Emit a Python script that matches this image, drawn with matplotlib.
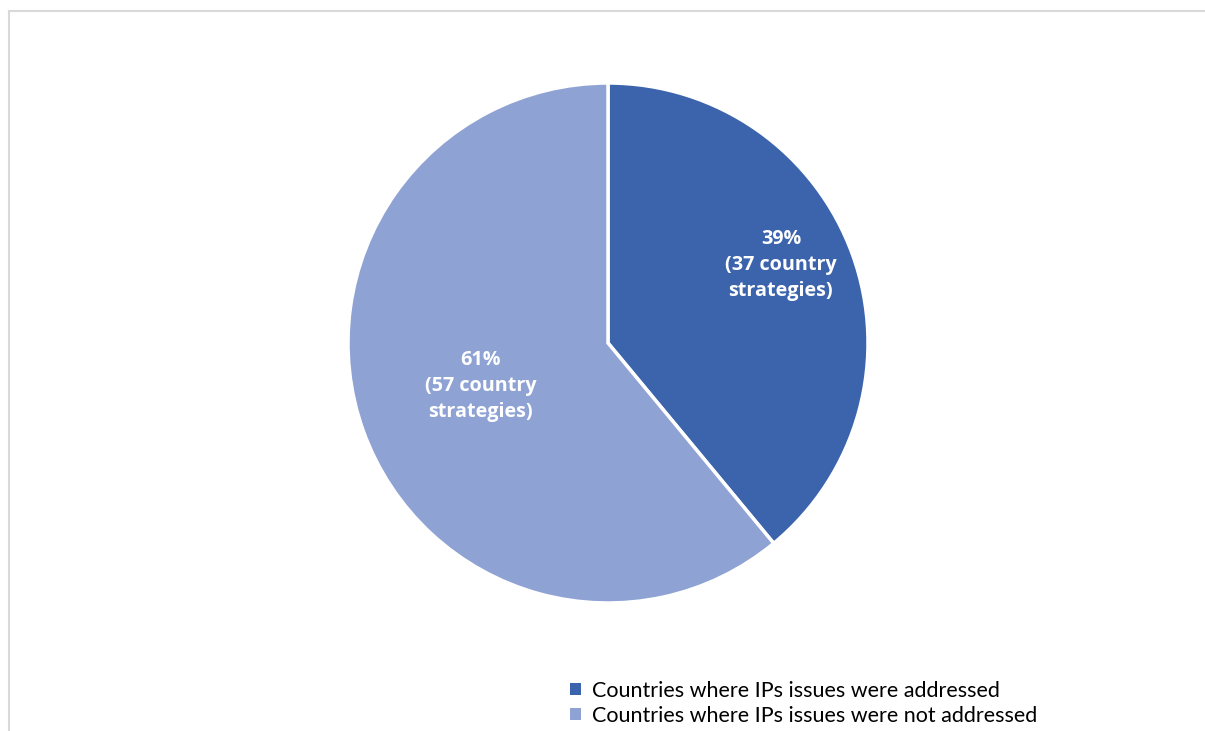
import matplotlib.pyplot as plt
import numpy as np
from matplotlib.lines import Line2D
from matplotlib.patches import Rectangle

labels = ["Countries where IPs issues were addressed",
          "Countries where IPs issues were not addressed"]
shares = [39, 61]
counts = [37, 57]
colors = ["#3B64AD", "#8FA2D4"]
label_xy = [(0.665, 0.30), (-0.49, -0.165)]

plt.rcParams['font.family'] = ['Lato', 'DejaVu Sans']

W, H = 1205, 731
fig = plt.figure(figsize=(W / 100, H / 100), dpi=100)

# pie centre (608, 343), radius 260 px
ax = fig.add_axes([348 / W, (H - 603) / H, 520 / W, 520 / H])
wedges, _ = ax.pie(shares, colors=colors, startangle=90, counterclock=False,
                   radius=1, wedgeprops=dict(edgecolor="white", linewidth=2.5))
ax.set_xlim(-1, 1)
ax.set_ylim(-1, 1)
ax.set_aspect("equal")
ax.axis("off")

for (x, y), s, c in zip(label_xy, shares, counts):
    ax.text(x, y, f"{s}%\n({c} country\nstrategies)",
            ha="center", va="center", color="white", fontsize=14.2,
            family=["Open Sans", "DejaVu Sans"], fontweight="bold",
            linespacing=1.42)

# legend
handles = [Rectangle((0, 0), 1, 1, facecolor=c, edgecolor="none") for c in colors]
fig.legend(handles, labels, loc="upper left", bbox_to_anchor=(570 / W, 1 - 681 / H),
           frameon=False, fontsize=15.5, handlelength=0.5, handleheight=0.5,
           handletextpad=0.5, labelspacing=0.22, borderpad=0, borderaxespad=0)

# chart area border (partly cropped)
fig.add_artist(Line2D([9 / W, 1], [1 - 11 / H, 1 - 11 / H], color="#D9D9D9", lw=1.5,
                      transform=fig.transFigure))
fig.add_artist(Line2D([9 / W, 9 / W], [0, 1 - 11 / H], color="#D9D9D9", lw=1.5,
                      transform=fig.transFigure))

fig.savefig("out.png", dpi=100)
